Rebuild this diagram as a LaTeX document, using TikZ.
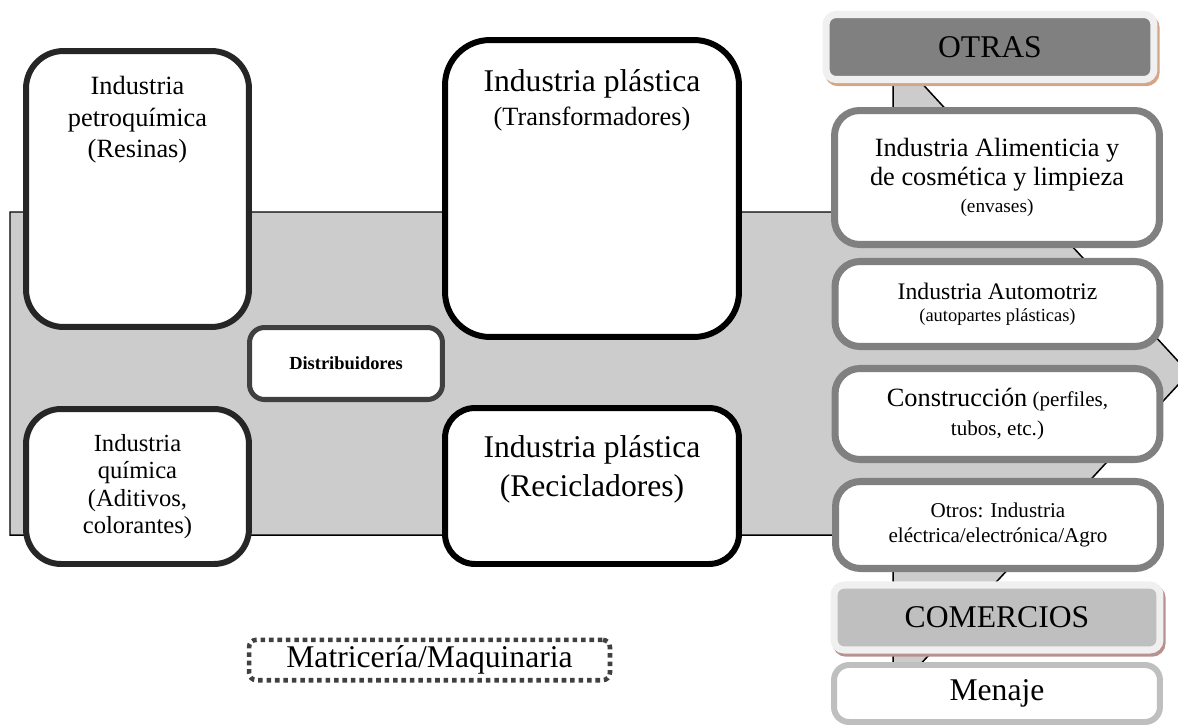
\documentclass[tikz,border=0pt]{standalone}
\usepackage{fontspec}
\setmainfont{Liberation Serif}
\usetikzlibrary{positioning,shadows}
\definecolor{arrowgray}{HTML}{CCCCCC}
\definecolor{darkline}{HTML}{262626}
\definecolor{midline}{HTML}{404040}
\definecolor{sidegray}{HTML}{808080}
\definecolor{palegray}{HTML}{BFBFBF}
\definecolor{paleline}{HTML}{F0F0F0}
\definecolor{tanshade}{HTML}{D2A686}
\definecolor{roseshade}{HTML}{B89090}

\begin{document}
\begin{tikzpicture}[x=0.02cm,y=-0.02cm,
	blockbox/.style={draw=darkline,line width=3.4pt,fill=white,rounded corners=0.75cm,align=center,inner sep=0pt,minimum width=4.46cm},
	plasticbox/.style={blockbox,draw=black,minimum width=5.88cm},
	sidebox/.style={draw=sidegray,line width=4pt,fill=white,rounded corners=0.5cm,align=center,inner sep=0pt,minimum width=6.5cm},
	headbox/.style={draw=paleline,line width=4pt,rounded corners=0.2cm,inner sep=0pt,minimum width=6.56cm,minimum height=1.3cm,font=\fontsize{18}{21}\selectfont},
	toptext/.style={inner sep=0pt,align=center}]
	\useasboundingbox (0,0) rectangle (1178,727);
	\draw[fill=arrowgray,line width=0.85pt] (10,212) -- (893,212) -- (893,52) -- (1189,373) -- (893,694) -- (893,535) -- (10,535) -- cycle;

	\node[blockbox,minimum height=5.52cm] (petro) at (137.5,189) {};
	\node[toptext,below=0.56cm of petro.north,font=\fontsize{15}{18}\selectfont] (petrotext) {Industria\\petroquímica\\(Resinas)};
	\node[blockbox,rounded corners=0.7cm,minimum height=3.1cm,font=\fontsize{14}{15.5}\selectfont] (quimica) at (137.5,486.5) {Industria\\química\\(Aditivos,\\colorantes)};
	\node[draw=midline,line width=2.85pt,fill=white,rounded corners=0.3cm,minimum width=3.86cm,minimum height=1.44cm,font=\bfseries\fontsize{10.5}{12}\selectfont] (distrib) at (346,363.5) {Distribuidores};

	\node[plasticbox,rounded corners=0.9cm,minimum height=5.94cm] (transf) at (592,188.5) {};
	\node[toptext,below=0.64cm of transf.north,font=\fontsize{18}{19.4}\selectfont] (transftext) {Industria plástica\\{\fontsize{15}{18}\selectfont(Transformadores)}};
	\node[plasticbox,rounded corners=0.6cm,minimum height=3.12cm] (recic) at (592,486) {};
	\node[toptext,below=0.6cm of recic.north,font=\fontsize{18}{22}\selectfont] (recictext) {Industria plástica\\(Recicladores)};

	\node[draw=midline,line width=2.6pt,dash pattern=on 2.6pt off 2.2pt,rounded corners=0.15cm,minimum width=7.22cm,minimum height=0.8cm,font=\fontsize{18}{21}\selectfont] (matric) at (429.5,660) {Matricería/Maquinaria};

	\node[headbox,fill=sidegray,drop shadow={shadow xshift=1.2pt,shadow yshift=-1.8pt,fill=tanshade,draw=tanshade,line width=4pt,opacity=1}] (otras) at (990,47) {OTRAS};
	\node[sidebox,minimum height=2.68cm,font=\fontsize{15}{16.5}\selectfont] (alim) at (997,177.5) {Industria Alimenticia y\\de cosmética y limpieza\\[-1.5pt]{\fontsize{11}{13}\selectfont(envases)}};
	\node[sidebox,minimum height=1.7cm,font=\fontsize{13.5}{12.5}\selectfont] (auto) at (997.5,304) {Industria Automotriz\\{\fontsize{10.5}{12}\selectfont(autopartes plásticas)}};
	\node[sidebox,minimum height=1.82cm,font=\fontsize{12}{16.5}\selectfont] (constr) at (997.5,414) {{\fontsize{15}{17}\selectfont Construcción} (perfiles,\\tubos, etc.)};
	\node[sidebox,minimum height=1.74cm,font=\fontsize{12}{14.5}\selectfont] (otros) at (998,525) {Otros: Industria\\eléctrica/electrónica/Agro};
	\node[headbox,fill=palegray,minimum width=6.52cm,drop shadow={shadow xshift=1.2pt,shadow yshift=-1.8pt,fill=roseshade,draw=roseshade,line width=4pt,opacity=1}] (comer) at (997,617.5) {COMERCIOS};
	\node[draw=palegray,line width=3.4pt,fill=white,rounded corners=0.3cm,minimum width=6.52cm,minimum height=1.14cm,font=\fontsize{18}{21}\selectfont] (menaje) at (997,693.5) {Menaje};
\end{tikzpicture}
\end{document}
